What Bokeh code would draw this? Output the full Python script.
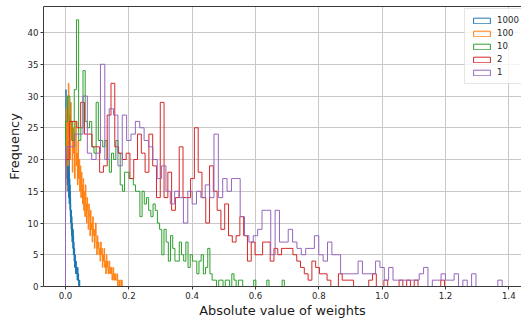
import numpy as np
from bokeh.plotting import figure
from bokeh.models import (Range1d, LinearAxis, FixedTicker, Legend, LegendItem,
                          NumeralTickFormatter, ColumnDataSource)
from bokeh.embed import file_html
from bokeh.resources import INLINE

# ---- data ----
series_labels = ["1000", "100", "10", "2", "1"]
series_colors = ["#1f77b4", "#ff7f0e", "#2ca02c", "#d62728", "#9467bd"]
series_max = [0.045, 0.179, 0.691, 1.197, 1.379]   # largest value of each series (bins span 0..max)

counts_1000 = [12, 26, 18, 31, 22, 27, 17, 25, 20, 28,
               19, 24, 16, 26, 21, 18, 23, 15, 22, 19,
               17, 21, 14, 19, 16, 20, 13, 18, 15, 17,
               14, 16, 12, 15, 11, 14, 13, 10, 12, 11,
               9, 12, 10, 8, 11, 9, 7, 10, 8, 9,
               7, 8, 6, 9, 7, 5, 8, 6, 7, 5,
               6, 4, 5, 6, 3, 5, 4, 5, 3, 4,
               3, 4, 2, 3, 4, 2, 3, 2, 3, 2,
               2, 3, 1, 2, 2, 1, 3, 1, 2, 1,
               1, 2, 1, 0, 1, 1, 0, 1, 1, 1]

counts_100 = [15, 28, 22, 30, 19, 32, 24, 27, 20, 29,
              23, 26, 18, 25, 21, 24, 17, 22, 26, 19,
              21, 16, 23, 17, 20, 15, 19, 14, 18, 16,
              13, 17, 12, 15, 11, 16, 13, 10, 14, 12,
              9, 13, 11, 8, 12, 9, 10, 7, 11, 8,
              9, 6, 8, 10, 7, 5, 8, 6, 7, 5,
              6, 4, 7, 5, 6, 3, 5, 4, 6, 3,
              4, 2, 5, 3, 4, 2, 3, 4, 2, 3,
              2, 3, 1, 2, 3, 1, 2, 1, 2, 1,
              1, 2, 0, 1, 1, 0, 1, 1, 0, 1]

counts_10 = [26, 30, 26, 23, 31, 42, 23, 25, 34, 26,
             25, 26, 22, 21, 29, 23, 23, 22, 23, 20,
             18, 21, 20, 23, 21, 16, 15, 18, 18, 17,
             17, 16, 15, 15, 11, 15, 13, 14, 12, 11,
             13, 12, 10, 9, 5, 9, 7, 4, 8, 6,
             4, 4, 7, 5, 4, 7, 3, 5, 4, 4,
             2, 4, 5, 2, 3, 6, 2, 1, 1, 0,
             1, 1, 0, 1, 1, 0, 2, 1, 0, 1,
             1, 0, 0, 0, 0, 0, 1, 0, 0, 0,
             0, 0, 1, 0, 0, 0, 0, 0, 0, 1]

counts_2 = [20, 26, 26, 25, 29, 24, 24, 22, 22, 18,
            19, 27, 32, 22, 21, 20, 21, 17, 20, 24,
            21, 18, 24, 19, 14, 29, 14, 18, 12, 14,
            22, 14, 14, 17, 25, 18, 14, 10, 19, 15,
            12, 9, 13, 8, 7, 8, 11, 8, 4, 7,
            5, 5, 7, 7, 4, 6, 5, 6, 6, 6,
            5, 4, 3, 2, 1, 4, 3, 2, 2, 1,
            0, 0, 2, 1, 1, 1, 0, 0, 0, 0,
            1, 2, 0, 0, 1, 0, 0, 0, 1, 0,
            1, 0, 1, 0, 0, 0, 0, 0, 0, 1]

counts_1 = [22, 22, 24, 24, 30, 21, 20, 21, 35, 20,
            28, 27, 19, 27, 23, 24, 26, 25, 23, 22,
            20, 17, 19, 15, 13, 15, 14, 10, 15, 13,
            15, 14, 16, 14, 24, 14, 17, 15, 17, 17,
            11, 8, 7, 8, 9, 12, 12, 5, 12, 7,
            7, 9, 7, 6, 5, 6, 6, 8, 5, 4,
            7, 5, 5, 2, 2, 2, 2, 4, 2, 2,
            2, 4, 3, 1, 3, 1, 1, 1, 1, 1,
            1, 2, 3, 0, 1, 1, 2, 1, 1, 2,
            0, 1, 0, 2, 0, 0, 0, 0, 0, 1]

series_counts = [counts_1000, counts_100, counts_10, counts_2, counts_1]

x_ticks = [0.0, 0.2, 0.4, 0.6, 0.8, 1.0, 1.2, 1.4]
y_ticks = [0, 5, 10, 15, 20, 25, 30, 35, 40]

# ---- figure ----
p = figure(width=521, height=324, output_backend="svg", toolbar_location=None,
           x_range=Range1d(-0.0695, 1.44), y_range=Range1d(0, 44.1),
           min_border_left=43, min_border_right=0, min_border_top=6,
           min_border_bottom=38)
p.background_fill_color = "white"
p.border_fill_color = "white"
p.outline_line_color = None

TEXT = "#262626"
SPINE = "#3a3a3a"

for ax in (p.xaxis[0], p.yaxis[0]):
    ax.axis_line_color = SPINE
    ax.axis_line_width = 1
    ax.major_tick_line_color = SPINE
    ax.major_tick_out = 3
    ax.major_tick_in = 0
    ax.minor_tick_line_color = None
    ax.major_label_text_font = "DejaVu Sans"
    ax.major_label_text_font_size = "8.6px"
    ax.major_label_text_color = TEXT
    ax.major_label_standoff = 2
    ax.axis_label_text_font = "DejaVu Sans"
    ax.axis_label_text_font_size = "12.9px"
    ax.axis_label_text_font_style = "normal"
    ax.axis_label_text_color = "#1a1a1a"

p.xaxis.ticker = FixedTicker(ticks=x_ticks)
p.yaxis.ticker = FixedTicker(ticks=y_ticks)
p.xaxis.formatter = NumeralTickFormatter(format="0.0")
p.xaxis.axis_label = "Absolute value of weights"
p.yaxis.axis_label = "Frequency"
p.xaxis.axis_label_standoff = 1
p.yaxis.axis_label_standoff = 3

top = LinearAxis(ticker=FixedTicker(ticks=[]), axis_line_color=SPINE,
                 major_tick_line_color=None, minor_tick_line_color=None,
                 major_tick_out=0, minor_tick_out=0, major_label_standoff=0,
                 major_label_text_font_size="0px")
p.add_layout(top, "above")

p.xgrid.grid_line_color = "#c8c8c8"
p.ygrid.grid_line_color = "#c8c8c8"
p.xgrid.grid_line_width = 1
p.ygrid.grid_line_width = 1

items = []
for lab, col, cnts, vmax in zip(series_labels, series_colors, series_counts, series_max):
    edges = np.linspace(0.0, vmax, len(cnts) + 1)
    xs = np.repeat(edges, 2)
    ys = np.concatenate([[0], np.repeat(np.asarray(cnts, dtype=float), 2), [0]])
    p.line(xs, ys, line_color=col, line_width=1)
    # legend-only glyph: one undrawable (NaN) row so the legend swatch is an outlined box
    src = ColumnDataSource(dict(l=[np.nan], r=[np.nan], t=[np.nan], b=[np.nan]))
    dummy = p.quad(left="l", right="r", top="t", bottom="b", source=src,
                   fill_color=None, line_color=col, line_width=1)
    items.append(LegendItem(label=lab, renderers=[dummy], index=0))

legend = Legend(items=items, location=(421, 202), orientation="vertical",
                background_fill_color="white", background_fill_alpha=0.8,
                border_line_color="#cccccc", border_line_width=1,
                label_text_font="DejaVu Sans", label_text_font_size="8.6px",
                label_text_color=TEXT, padding=6, spacing=3, margin=0,
                glyph_width=21, glyph_height=7, label_height=7, label_standoff=5)
p.add_layout(legend)

open("out.html", "w").write(file_html(p, INLINE))
